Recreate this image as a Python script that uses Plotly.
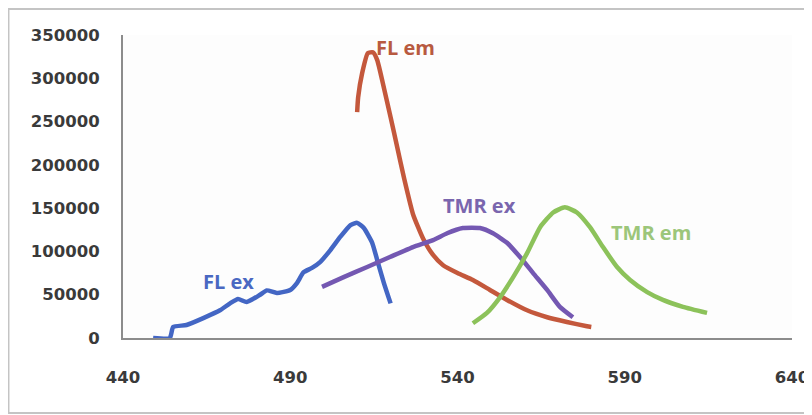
import plotly.graph_objects as go

# ---- data ----
fl_ex_x = [449, 454, 455, 459, 464, 469, 472, 474.4, 477, 481, 483, 486, 490, 492, 494, 496.5, 499, 502, 505, 508, 510, 512, 514.5, 516, 518, 520]
fl_ex_y = [0, 0, 12700, 15000, 23000, 32000, 40000, 45000, 41500, 50000, 55000, 52000, 55500, 63500, 76000, 81000, 88000, 101600, 117000, 130500, 133000, 127000, 110000, 90000, 63500, 40000]

fl_em_x = [510, 510.3, 511.5, 513.2, 514.7, 516, 517.7, 520, 522, 524, 526.7, 529.7, 532.7, 535.7, 540, 544.6, 549.7, 554.8, 560.8, 566.8, 572.7, 578.7, 580]
fl_em_y = [261000, 278000, 306000, 329000, 330000, 321000, 294000, 255000, 220000, 185000, 143000, 115000, 96000, 84000, 75000, 67000, 55500, 44000, 32000, 24000, 18500, 13500, 12700]

tmr_ex_x = [499.5, 505.8, 513, 519.8, 526.7, 532.7, 536.9, 541.6, 546.7, 550.6, 554.8, 558.7, 562.6, 566.8, 570.6, 574.5]
tmr_ex_y = [59000, 70000, 82000, 93500, 105000, 113000, 121000, 127000, 127000, 121000, 110000, 93500, 75000, 55500, 36000, 24000]

tmr_em_x = [544.6, 548.8, 552.7, 556.6, 560.8, 564.7, 568.6, 572.1, 575.7, 579.6, 583.5, 587.7, 591.6, 596.7, 601.4, 607.4, 614.6]
tmr_em_y = [17000, 29000, 47000, 70000, 98000, 128000, 145000, 151000, 145000, 128000, 105000, 82000, 67000, 53000, 44000, 36000, 29000]

x_ticks = [440, 490, 540, 590, 640]
y_ticks = [0, 50000, 100000, 150000, 200000, 250000, 300000, 350000]

labels = [
    ("FL em", 524.6, 335000, "#B85A40"),
    ("TMR ex", 546.7, 153600, "#7A66AE"),
    ("TMR em", 597.8, 122000, "#9CC67A"),
    ("FL ex", 471.4, 64700, "#4A68C2"),
]

series = [
    (fl_ex_x, fl_ex_y, "#4366C4"),
    (fl_em_x, fl_em_y, "#C4583C"),
    (tmr_ex_x, tmr_ex_y, "#7458B2"),
    (tmr_em_x, tmr_em_y, "#8CC25A"),
]

fig = go.Figure()
for xs, ys, c in series:
    fig.add_trace(go.Scatter(x=xs, y=ys, mode="lines", line=dict(color=c, width=4.5, shape="spline", smoothing=0.5),
                             showlegend=False, hoverinfo="skip"))

for txt, x, y, c in labels:
    fig.add_annotation(x=x, y=y, text="<b>%s</b>" % txt, showarrow=False,
                       font=dict(family="Open Sans", size=20, color=c))

tick_font = dict(family="DejaVu Sans", size=16.5, color="#3A3A3A", weight="bold")
fig.update_layout(
    width=812, height=415,
    margin=dict(l=115, r=28, t=27, b=85, autoexpand=False),
    paper_bgcolor="#FFFFFF", plot_bgcolor="#FDFDFD",
    xaxis=dict(range=[440, 640], tickvals=x_ticks, ticktext=[str(v) for v in x_ticks], automargin=False,
               showgrid=False, zeroline=False, showline=True, linecolor="#8C8C8C", linewidth=2,
               ticks="outside", ticklen=23, tickcolor="rgba(0,0,0,0)", tickfont=tick_font),
    yaxis=dict(range=[0, 350000], tickvals=y_ticks, ticktext=[str(v) for v in y_ticks], automargin=False,
               showgrid=False, zeroline=False, showline=True, linecolor="#8C8C8C", linewidth=2,
               ticks="outside", ticklen=18, tickcolor="rgba(0,0,0,0)", tickfont=tick_font),
    shapes=[dict(type="rect", xref="paper", yref="paper", x0=-0.1712, x1=1.0209, y0=-0.2475, y1=1.0858,
                 line=dict(color="#C4C4C4", width=2), fillcolor="rgba(0,0,0,0)", layer="below")],
)

fig.write_html("out.html")
